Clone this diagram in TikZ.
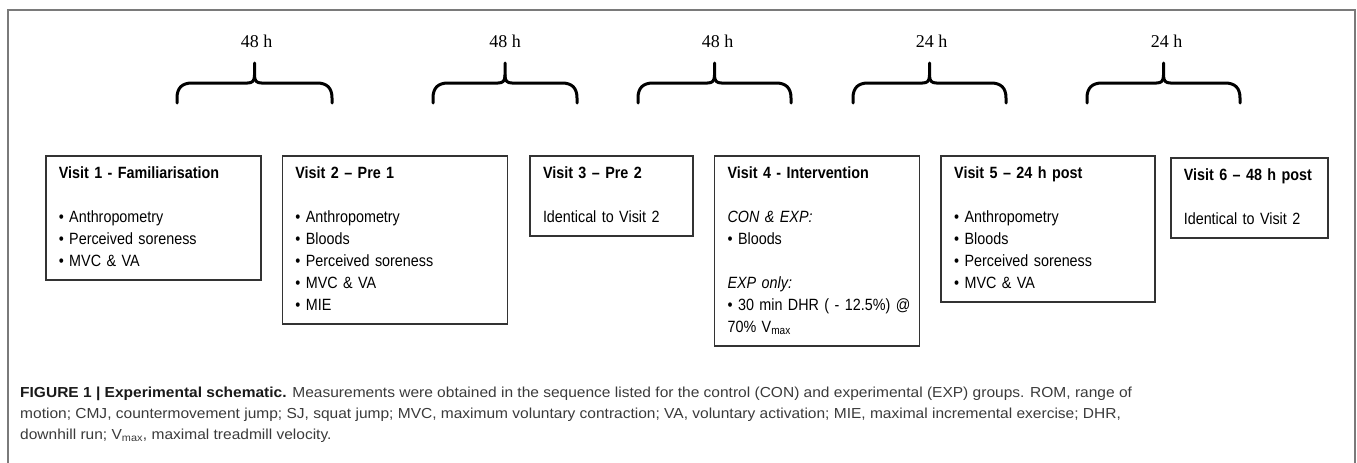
\documentclass[tikz,border=0pt]{standalone}
\usepackage{fontspec}
\setmainfont{Liberation Sans}
\newfontfamily\boxfont[FakeStretch=0.88]{Liberation Sans}
\newfontfamily\capfont[FakeStretch=1.07]{Liberation Sans}
\newfontfamily\gapfont{Liberation Serif}
\usetikzlibrary{positioning}
\definecolor{framegray}{HTML}{7A7A7A}
\definecolor{boxline}{HTML}{333333}
\definecolor{captext}{HTML}{3A3A3A}
\tikzset{
  visit/.style={draw=boxline, line width=1.6pt, anchor=north west, align=left,
    inner xsep=13pt, inner ysep=7pt, font=\boxfont\fontsize{16.3}{22}\selectfont},
  gaplabel/.style={inner sep=0pt, font=\gapfont\fontsize{18}{20}\selectfont},
  bracestroke/.style={line width=3pt, line cap=round, line join=round},
  caption/.style={anchor=base west, inner sep=0pt, text=captext,
    font=\capfont\fontsize{14.5}{19.5}\selectfont},
  pics/gapbrace/.style={code={
    \draw[bracestroke] (-#1,20) -- (-#1,15) .. controls (-#1,5) and (-#1+5,0) .. (-#1+15,0)
      -- (-7,0) .. controls (-2,0) and (0,-2) .. (0,-8) -- (0,-20);
    \draw[bracestroke] (#1,20) -- (#1,15) .. controls (#1,5) and (#1-5,0) .. (#1-15,0)
      -- (7,0) .. controls (2,0) and (0,-2) .. (0,-8);
    \coordinate (-tip) at (0,-20);
  }},
}
\begin{document}
\begin{tikzpicture}[x=1pt,y=-1pt]
\useasboundingbox (0,0) rectangle (1357,463);
%\draw[help lines,step=50] (0,0) grid (1357,463);
\draw[framegray,line width=1.5pt] (8,475) -- (8,10) -- (1355,10) -- (1355,475);
% time gaps
\pic (br1) at (254.5,83) {gapbrace=77.5};
\pic (br2) at (505,83) {gapbrace=72};
\pic (br3) at (714.5,83) {gapbrace=76.5};
\pic (br4) at (929.5,83) {gapbrace=76.5};
\pic (br5) at (1163.5,83) {gapbrace=76.5};
\node[gaplabel, above=15pt of br1-tip, xshift=2pt] (g1) {48 h};
\node[gaplabel, above=15pt of br2-tip] (g2) {48 h};
\node[gaplabel, above=15pt of br3-tip, xshift=3pt] (g3) {48 h};
\node[gaplabel, above=15pt of br4-tip, xshift=2pt] (g4) {24 h};
\node[gaplabel, above=15pt of br5-tip, xshift=3pt] (g5) {24 h};
% visits
\node[visit, text width=189pt] (v1) at (45,155) {\strut\textbf{Visit 1 - Familiarisation}\\[22pt]
  • Anthropometry\\
  • Perceived soreness\\
  • MVC \& VA\strut};
\node[visit, text width=199pt, right=20pt of v1.north east, anchor=north west] (v2) {\strut\textbf{Visit 2 – Pre 1}\\[22pt]
  • Anthropometry\\
  • Bloods\\
  • Perceived soreness\\
  • MVC \& VA\\
  • MIE\strut};
\node[visit, text width=137pt, right=21pt of v2.north east, anchor=north west] (v3) {\strut\textbf{Visit 3 – Pre 2}\\[22pt]
  Identical to Visit 2\strut};
\node[visit, text width=179pt, right=20pt of v3.north east, anchor=north west] (v4) {\strut\textbf{Visit 4 - Intervention}\\[22pt]
  \textit{CON \& EXP:}\\
  • Bloods\\[22pt]
  \textit{EXP only:}\\
  \mbox{• 30 min DHR ( - 12.5\%) @}\\
  70\% V\textsubscript{max}\strut};
\node[visit, text width=188pt, right=20pt of v4.north east, anchor=north west] (v5) {\strut\textbf{Visit 5 – 24 h post}\\[22pt]
  • Anthropometry\\
  • Bloods\\
  • Perceived soreness\\
  • MVC \& VA\strut};
\node[visit, text width=131pt, right=14pt of v5.north east, anchor=north west, yshift=-2pt] (v6) {\strut\mbox{\textbf{Visit 6 – 48 h post}}\\[22pt]
  Identical to Visit 2\strut};
% caption
\node[caption] (cap1) at (20,397) {\textbf{\color{black!90}FIGURE 1 | Experimental schematic.} Measurements were obtained in the sequence listed for the control (CON) and experimental (EXP) groups. ROM, range of};
\node[caption] (cap2) at (20,418) {motion; CMJ, countermovement jump; SJ, squat jump; MVC, maximum voluntary contraction; VA, voluntary activation; MIE, maximal incremental exercise; DHR,};
\node[caption] (cap3) at (20,439) {downhill run; V\textsubscript{max}, maximal treadmill velocity.};
\end{tikzpicture}
\end{document}
